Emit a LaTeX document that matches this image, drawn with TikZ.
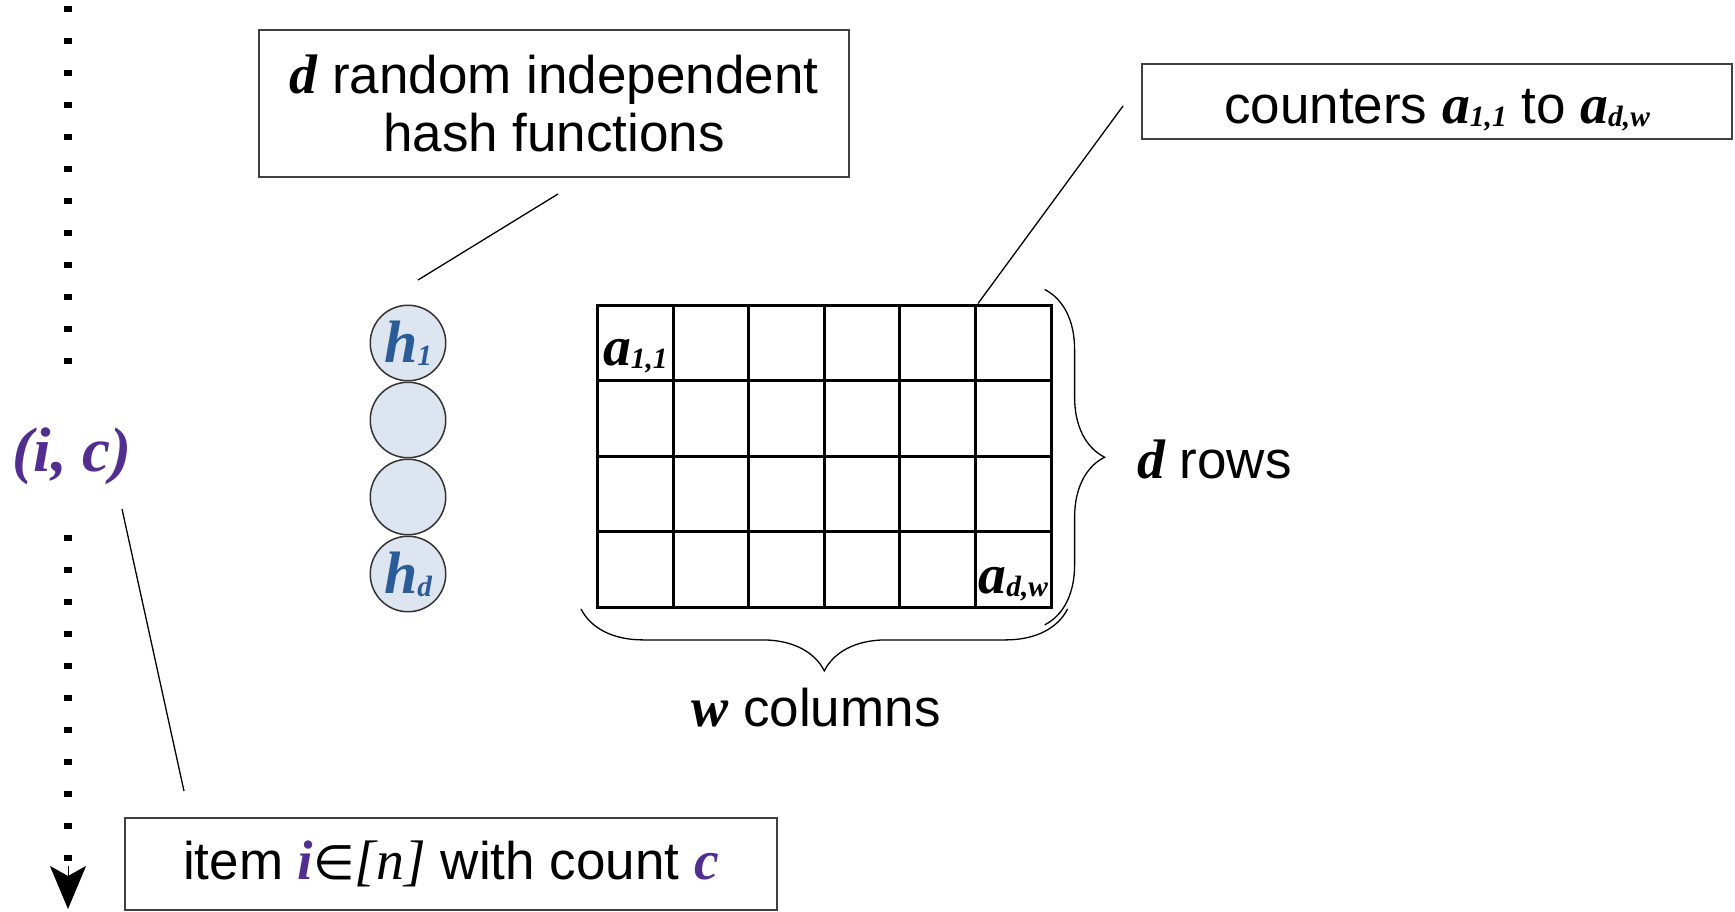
\documentclass[tikz,border=0pt]{standalone}
\usepackage{fontspec}
\setmainfont{Liberation Sans}
\newfontfamily\srffont[Scale=1.05]{Liberation Serif}
\newfontfamily\symbfont[Scale=0.9]{DejaVu Sans}
\usepackage{tikz}
\usetikzlibrary{positioning}
\usetikzlibrary{arrows.meta}
\usetikzlibrary{decorations.pathreplacing}
\definecolor{itempurple}{HTML}{522E91}
\definecolor{hashblue}{HTML}{2B5C98}
\definecolor{hashfill}{HTML}{DDE5F0}
\newcommand{\bi}[1]{{\srffont\bfseries\itshape #1}}
\newcommand{\lowidx}[1]{\raisebox{-3pt}{\fontsize{28}{28}\selectfont\srffont\bfseries\itshape #1}}
\tikzstyle{infobox} = [draw=black!75, line width=1.2pt, align=center, inner sep=0pt, font=\fontsize{53}{58}\selectfont]
\tikzstyle{bigtext} = [inner sep=0pt, font=\fontsize{53}{58}\selectfont]
\tikzstyle{cell} = [draw=black, line width=3pt, minimum size=75.6pt, inner sep=0pt]
\tikzstyle{hashnode} = [circle, draw=black!80, line width=1.5pt, fill=hashfill, minimum size=75.5pt, inner sep=0pt, text=hashblue, font=\fontsize{57}{60}\selectfont]
\tikzstyle{leader} = [line width=1.3pt]
\tikzstyle{curly} = [line width=1.3pt, decorate]
\tikzstyle{stream} = [line width=8pt, dash pattern=on 6pt off 26pt]

\begin{document}
\begin{tikzpicture}[x=1pt, y=-1pt]
    \useasboundingbox (0,0) rectangle (1735,912);
    % item stream
    \node[bigtext, text=itempurple, font=\fontsize{60}{64}\selectfont] (ic) at (72,456) {\bi{(i, c)}};
    \coordinate (streamtop) at (68,6);
    \coordinate (upperend) at (68,365);
    \coordinate (lowerstart) at (68,535);
    \coordinate (tipbase) at (68,866);
    \coordinate (streambot) at (68,909);
    \draw[stream] (streamtop) -- (upperend);
    \draw[stream] (lowerstart) -- (tipbase);
    \draw[line width=1pt, -{Stealth[length=43pt, width=36pt, inset=10pt]}] (tipbase) -- (streambot);
    \node[infobox, minimum width=652pt, minimum height=92pt] (itembox) at (451,864) {item \textcolor{itempurple}{\bi{i}}{\symbfont ∈}{\srffont\itshape [n]} with count \textcolor{itempurple}{\bi{c}}};
    \coordinate (icfoot) at (122,509);
    \coordinate (itemtip) at (184,791);
    \draw[leader] (icfoot) -- (itemtip);
    % hash functions
    \node[infobox, minimum width=590pt, minimum height=147pt] (hashbox) at (554,103.5) {\bi{d} random independent\\hash functions};
    \node[hashnode] (h1) at (408,343) {\bi{h}\lowidx{1}};
    \node[hashnode, below=0pt of h1] (h2) {};
    \node[hashnode, below=0pt of h2] (h3) {};
    \node[hashnode, below=0pt of h3] (hd) {\bi{h}\lowidx{d}};
    \coordinate (hashfoot) at (558,194);
    \coordinate (hashtip) at (418,280);
    \draw[leader] (hashfoot) -- (hashtip);
    % counter array
    \foreach \r in {1,...,4}
        \foreach \c in {1,...,6}
            \node[cell] (c-\r-\c) at ({597.5+75.6*(\c-0.5)}, {305+75.6*(\r-0.5)}) {};
    \node[bigtext, anchor=base] (a11) at ([yshift=17pt]c-1-1.south) {\bi{a}\lowidx{1,1}};
    \node[bigtext, anchor=base] (adw) at ([yshift=15pt]c-4-6.south) {\bi{a}\lowidx{d,w}};
    \node[infobox, minimum width=590pt, minimum height=75pt, text height=47pt, text depth=3pt] (countbox) at (1437,101.5) {counters \bi{a}\lowidx{1,1} to \bi{a}\lowidx{d,w}};
    \coordinate (countfoot) at (1123,106);
    \draw[leader] (countfoot) -- ([xshift=4pt]c-1-6.north west);
    % braces
    \draw[curly, decoration={brace, amplitude=60pt}] ([xshift=-8pt, yshift=14pt]c-1-6.north east) -- ([xshift=-8pt, yshift=-16pt]c-4-6.south east);
    \draw[curly, decoration={brace, amplitude=62pt}] ([xshift=15pt]c-4-6.south east) -- ([xshift=-15pt]c-4-1.south west);
    \node[bigtext, anchor=west] (rowtext) at (1137,459) {\bi{d} rows};
    \node[bigtext] (coltext) at (816,708) {\bi{w} columns};
\end{tikzpicture}
\end{document}
